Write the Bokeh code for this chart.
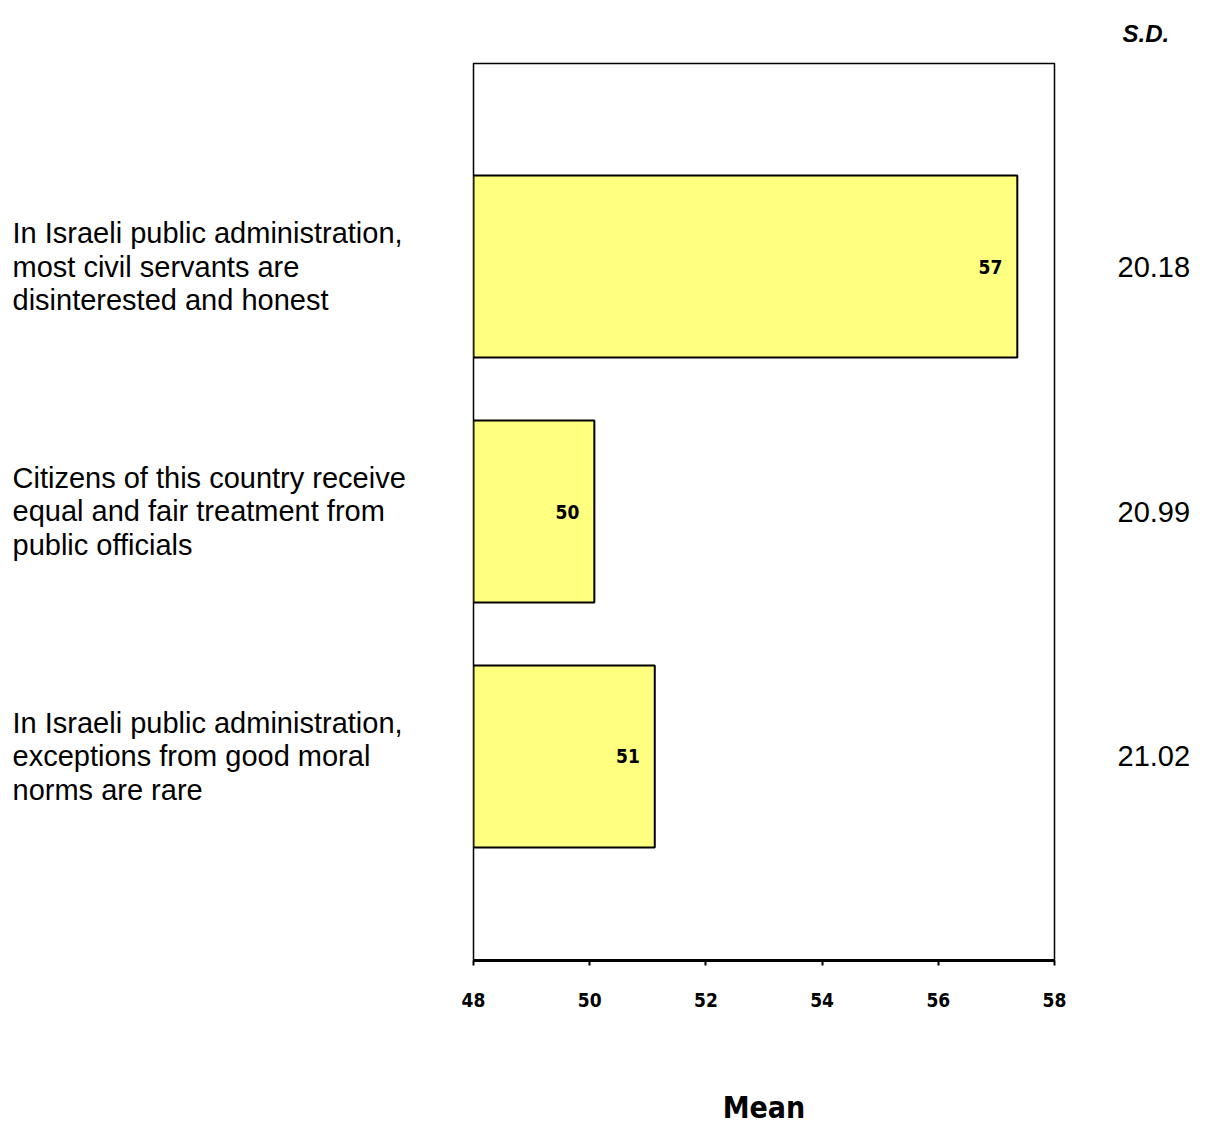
from bokeh.plotting import figure
from bokeh.layouts import row
from bokeh.models import Range1d, ColumnDataSource, FixedTicker
from bokeh.embed import file_html
from bokeh.resources import INLINE

# Survey statements, mean scores and standard deviations
statements = [
    "In Israeli public administration,\nmost civil servants are\ndisinterested and honest",
    "Citizens of this country receive\nequal and fair treatment from\npublic officials",
    "In Israeli public administration,\nexceptions from good moral\nnorms are rare",
]
means = [57.36, 50.08, 51.12]
std_devs = ["20.18", "20.99", "21.02"]
x_ticks = [48, 50, 52, 54, 56, 58]

rows = [1, 2, 3]
source = ColumnDataSource(dict(
    y=rows,
    mean=means,
    label=[str(int(round(m))) for m in means],
    stmt=statements,
    sd=std_devs,
))

COND = "DejaVu Sans Condensed"
SANS = "Liberation Sans"
H = 1130
TOP, BOTTOM = 63, 170
PAD = 20  # room for the end tick labels of the mean axis

y_range = Range1d(3.833, 0.171)


def side_panel(width):
    f = figure(width=width, height=H, output_backend="svg", toolbar_location=None,
               x_range=Range1d(0, width), y_range=y_range,
               min_border_left=0, min_border_right=0,
               min_border_top=TOP, min_border_bottom=BOTTOM,
               background_fill_color="white", border_fill_color="white")
    f.axis.visible = False
    f.grid.visible = False
    f.outline_line_color = None
    return f


# statement labels on the left
left = side_panel(473 - PAD)
left.text(x=12, y="y", text="stmt", source=source,
          text_align="left", text_baseline="middle",
          text_font={"value": SANS}, text_font_size="29px",
          text_line_height=1.06, text_color="black")

# main bar chart of means
p = figure(
    width=581 + 2 * PAD, height=H,
    output_backend="svg", toolbar_location=None,
    x_range=Range1d(48, 58), y_range=y_range,
    min_border_left=PAD, min_border_right=PAD,
    min_border_top=TOP, min_border_bottom=BOTTOM,
    background_fill_color="white", border_fill_color="white",
)
p.outline_line_color = "black"
p.outline_line_width = 1.5
p.xgrid.visible = False
p.ygrid.visible = False
p.yaxis.visible = False

ax = p.xaxis[0]
ax.ticker = FixedTicker(ticks=x_ticks)
ax.axis_line_width = 3
ax.axis_line_color = "black"
ax.major_tick_in = 0
ax.major_tick_out = 5
ax.major_tick_line_width = 2
ax.major_tick_line_color = "black"
ax.minor_tick_out = 0
ax.minor_tick_in = 0
ax.major_label_text_font = COND
ax.major_label_text_font_style = "bold"
ax.major_label_text_font_size = "19px"
ax.major_label_text_color = "black"
ax.major_label_standoff = 27
ax.axis_label = "Mean"
ax.axis_label_text_font = COND
ax.axis_label_text_font_style = "bold"
ax.axis_label_text_font_size = "30px"
ax.axis_label_text_color = "black"
ax.axis_label_standoff = 80

p.hbar(y="y", left=48, right="mean", height=0.743, source=source,
       fill_color="#FFFF80", line_color="black", line_width=2)

p.text(x="mean", y="y", text="label", source=source,
       text_align="right", text_baseline="middle", x_offset=-15,
       text_font={"value": COND}, text_font_style="bold",
       text_font_size="19px", text_color="black")

# standard deviations on the right, headed by "S.D."
right_w = 1208 - (473 - PAD) - (581 + 2 * PAD)
x0 = 1054 + PAD
right = side_panel(right_w)
right.text(x=1117 - x0, y="y", text="sd", source=source,
           text_align="left", text_baseline="middle",
           text_font={"value": SANS}, text_font_size="29px", text_color="black")
right.title.text = "S.D."
right.title.align = "left"
right.title.offset = 1122 - x0
right.title.standoff = 34
right.title.text_font = SANS
right.title.text_font_style = "bold italic"
right.title.text_font_size = "24px"
right.title.text_color = "black"

layout = row(left, p, right, spacing=0)
open("out.html", "w").write(file_html(layout, INLINE))
